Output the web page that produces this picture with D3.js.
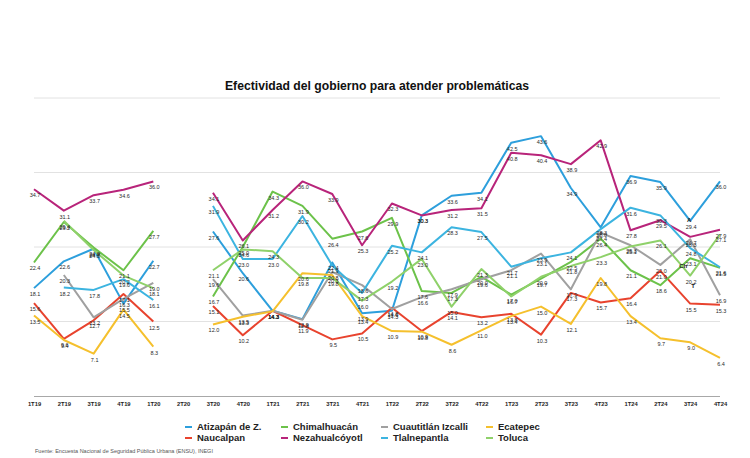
<!DOCTYPE html>
<html><head><meta charset="utf-8">
<script src="https://cdn.jsdelivr.net/npm/d3@7"></script>
<style>body{margin:0;background:#fff} svg{display:block;font-family:"Liberation Sans",Arial,sans-serif}</style>
</head><body><svg id="c" width="750" height="458"></svg>
<script>
const categories = ["1T19","2T19","3T19","4T19","1T20","2T20","3T20","4T20","1T21","2T21","3T21","4T21","1T22","2T22","3T22","4T22","1T23","2T23","3T23","4T23","1T24","2T24","3T24","4T24"];
const atizapan      = [18.1,22.6,24.7,15.5,22.7,null,27.6,20.6,14.3,12.9,22.4,13.9,14.3,30.3,33.6,34.1,42.5,43.6,34.9,28.3,36.9,35.9,29.4,36.0];
const naucalpan     = [15.6,9.6,12.7,17.1,12.5,null,15.1,10.2,14.3,11.9,9.5,10.5,14.8,10.9,14.1,13.2,13.8,10.3,17.3,15.7,16.4,21.0,15.5,15.3];
const chimalhuacan  = [22.4,29.2,24.9,21.1,27.7,null,16.7,25.0,34.3,31.9,26.4,27.6,29.9,17.6,17.3,20.0,17.0,19.7,22.5,26.4,21.1,18.6,23.1,21.5];
const nezahualcoyotl= [34.7,31.1,33.7,34.6,36.0,null,34.1,26.1,31.2,36.0,33.9,25.3,32.3,30.3,31.2,31.5,40.8,40.4,38.9,42.9,27.8,29.5,26.7,27.9];
const cuautitlan    = [null,20.3,13.2,16.3,19.0,null,19.6,13.5,14.3,12.8,20.8,18.6,14.6,16.6,17.9,19.6,21.1,23.9,17.9,27.4,25.3,22.0,26.3,16.9];
const tlalnepantla  = [null,18.2,17.8,19.6,16.1,null,31.9,23.0,23.0,30.2,21.9,17.3,25.2,24.1,28.3,27.5,21.7,23.1,24.1,28.0,31.6,30.3,24.8,21.6];
const ecatepec      = [13.5,9.4,7.1,14.5,8.3,null,12.0,13.3,14.2,20.6,20.3,13.4,10.9,10.8,8.6,11.0,13.4,15.0,12.1,19.8,13.4,9.7,9.0,6.4];
const toluca        = [null,29.4,24.5,20.2,18.1,null,21.1,24.6,24.3,19.8,19.8,16.0,19.2,23.0,15.0,21.3,16.7,20.0,21.8,23.3,25.1,26.1,20.2,27.1];

const seriesNames  = ["Atizapán de Z.","Naucalpan","Chimalhuacán","Nezahualcóyotl","Cuautitlán Izcalli","Tlalnepantla","Ecatepec","Toluca"];
const seriesValues = [atizapan,naucalpan,chimalhuacan,nezahualcoyotl,cuautitlan,tlalnepantla,ecatepec,toluca];
const seriesColors = ["#2d9fdc","#e8432e","#6cc24a","#b8247a","#a0a0a0","#3cb4e0","#f5c02d","#8fd16a"];
const yTicks = [0,12.5,25,37.5,50];
// annotations at 3T24
const annotations = [{s:0,t:"A",dx:-1,dy:1},{s:2,t:"Ch",dx:-7,dy:10},{s:7,t:"T",dx:3,dy:12}];

const svg = d3.select("#c");
svg.append("rect").attr("width",750).attr("height",458).attr("fill","#fff");

const x = d3.scalePoint().domain(categories).range([34,720]);
const y = d3.scaleLinear().domain([0,50]).range([396,98]);

// title
svg.append("text").attr("x",377).attr("y",90).attr("text-anchor","middle")
  .attr("font-size",12.2).attr("font-weight","bold").attr("fill","#111")
  .text("Efectividad del gobierno para atender problemáticas");

// grid
svg.append("g").selectAll("line").data(yTicks.slice(1)).join("line")
  .attr("x1",34).attr("x2",720).attr("y1",d=>y(d)).attr("y2",d=>y(d))
  .attr("stroke","#e2e2e2").attr("stroke-width",1);

// x axis
const xAxis = d3.axisBottom(x).tickSize(0).tickPadding(6);
const gx = svg.append("g").attr("transform",`translate(0,${y(0)})`).call(xAxis);
gx.select(".domain").attr("stroke","#a8a8a8").attr("stroke-width",1).attr("d","M34,0.5H720");
gx.selectAll("text").attr("font-size",5.8).attr("font-weight","bold").attr("fill","#222")
  .attr("font-family","Liberation Sans, Arial, sans-serif");

// lines
const line = d3.line().defined(d=>d.v!=null).x(d=>x(d.c)).y(d=>y(d.v));
const data = seriesValues.map((vals,i)=>({i, pts: vals.map((v,j)=>({c:categories[j],v}))}));
svg.append("g").selectAll("path").data(data).join("path")
  .attr("d",d=>line(d.pts)).attr("fill","none")
  .attr("stroke",d=>seriesColors[d.i]).attr("stroke-width",2)
  .attr("stroke-linejoin","round");

// data labels
const lg = svg.append("g");
data.forEach(d=>{
  lg.selectAll(null).data(d.pts.filter(p=>p.v!=null)).join("text")
    .attr("x",p=>x(p.c)+1).attr("y",p=>y(p.v)+8).attr("text-anchor","middle")
    .attr("font-size",5.5).attr("fill","#2a2a2a").text(p=>p.v.toFixed(1));
});

// annotations
annotations.forEach(a=>{
  const c = categories[22];
  svg.append("text").attr("x",x(c)+a.dx).attr("y",y(seriesValues[a.s][22])+a.dy)
    .attr("text-anchor","middle").attr("font-size",6).attr("font-weight","bold")
    .attr("fill","#222").text(a.t);
});

// legend (2 rows x 4 columns)
const legCols = [185,281,381,486], legRows = [427,438];
const legendItems = ["Atizapán de Z.","Chimalhuacán","Cuautitlán Izcalli","Ecatepec","Naucalpan","Nezahualcóyotl","Tlalnepantla","Toluca"];
legendItems.forEach((name,k)=>{
  const si = seriesNames.indexOf(name);
  const col = k%4, row = Math.floor(k/4);
  const g = svg.append("g").attr("transform",`translate(${legCols[col]},${legRows[row]})`);
  g.append("line").attr("x1",0).attr("x2",7).attr("y1",0).attr("y2",0)
    .attr("stroke",seriesColors[si]).attr("stroke-width",2);
  g.append("text").attr("x",12).attr("y",3.4).attr("font-size",9.5).attr("font-weight","bold")
    .attr("fill","#222").text(name);
});

// source
svg.append("text").attr("x",35).attr("y",453).attr("font-size",5.5).attr("fill","#555")
  .text("Fuente: Encuesta Nacional de Seguridad Pública Urbana (ENSU), INEGI");
</script></body></html>
